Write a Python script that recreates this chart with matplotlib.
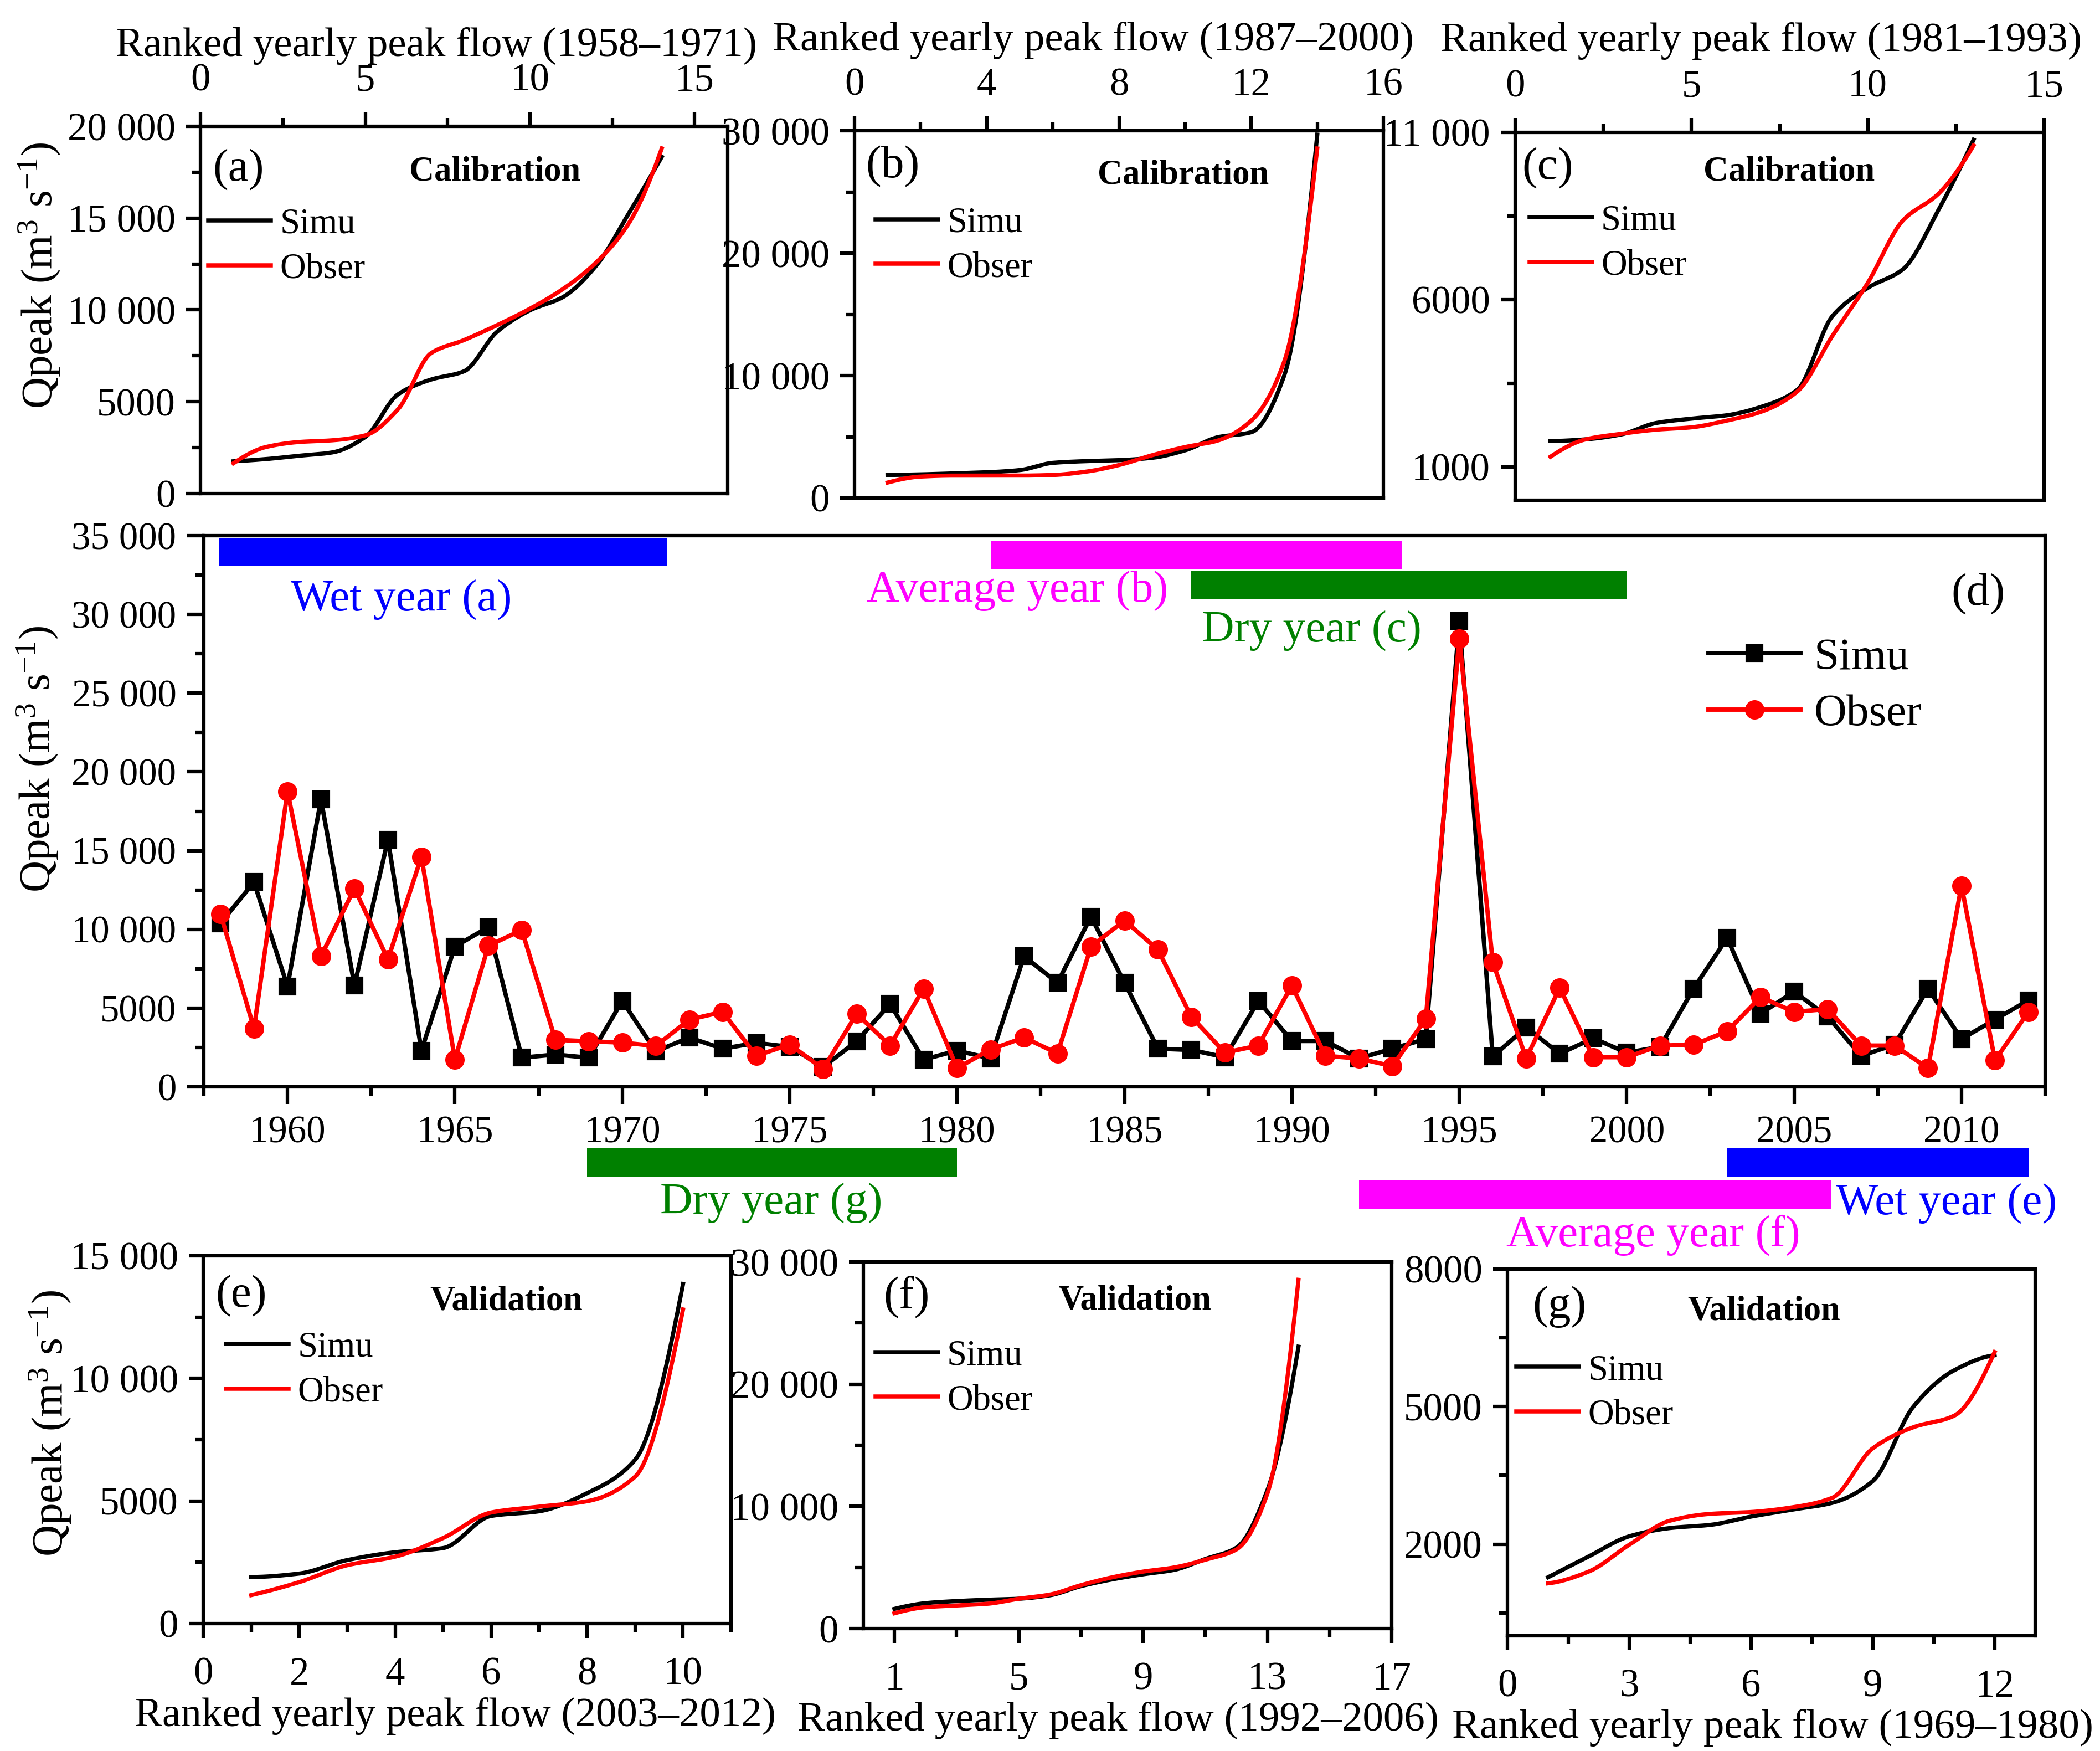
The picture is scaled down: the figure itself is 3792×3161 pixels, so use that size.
import numpy as np
import matplotlib
matplotlib.use("Agg")
import matplotlib.pyplot as plt
from matplotlib.ticker import MultipleLocator, FixedLocator, FuncFormatter

plt.rcParams['font.family'] = ['Liberation Serif', 'DejaVu Serif']
plt.rcParams['mathtext.fontset'] = 'custom'
plt.rcParams['mathtext.rm'] = 'Liberation Serif'
plt.rcParams['mathtext.it'] = 'Liberation Serif:italic'
plt.rcParams['axes.linewidth'] = 1.5

################################################################################
#                                     DATA                                     #
################################################################################

# yearly peak flow, panel (d)
years = list(range(1958, 2013))
simu = [10390, 13000, 6370, 18260, 6440, 15700, 2295, 8910, 10140, 1850,
        2050, 1850, 5450, 2250, 3130, 2420, 2790, 2540, 1260, 2890,
        5260, 1730, 2300, 1800, 8290, 6610, 10810, 6610, 2420, 2340,
        1880, 5450, 2910, 2910, 1800, 2420, 3040, 29570, 1925, 3780,
        2100, 3085, 2170, 2540, 6240, 9450, 4640, 6050, 4470, 1970,
        2670, 6240, 3040, 4270, 5500]
obser = [10980, 3700, 18760, 8290, 12590, 8095, 14610, 1730, 8960, 9950,
         2990, 2890, 2810, 2590, 4270, 4760, 1970, 2690, 1135, 4640,
         2620, 6240, 1185, 2370, 3130, 2120, 8910, 10560, 8710, 4440,
         2170, 2620, 6440, 1970, 1800, 1310, 4320, 28460, 7920, 1800,
         6290, 1880, 1880, 2620, 2670, 3530, 5700, 4760, 4940, 2620,
         2620, 1185, 12780, 1680, 4760]

# ranked yearly peak flow, panels (a)-(c) calibration, (e)-(g) validation
rank_a_simu = [1755, 1880, 2060, 2240, 3080, 5410, 6210, 6660, 8810, 9980,
               10700, 12390, 15260, 18340]
rank_a_obser = [1650, 2540, 2810, 2900, 3170, 4600, 7650, 8360, 9170, 10070,
                11140, 12570, 14720, 18800]
rank_b_simu = [1880, 1930, 2010, 2100, 2280, 2870, 3010, 3090, 3280, 3890,
               4970, 5370, 10000, 29680]
rank_b_obser = [1260, 1750, 1830, 1830, 1830, 1880, 2150, 2690, 3490, 4160,
                4700, 6310, 11150, 28550]
rank_c_simu = [1770, 1820, 1965, 2310, 2440, 2540, 2800, 3300, 5510, 6350,
               6910, 8670, 10780]
rank_c_obser = [1300, 1820, 1985, 2110, 2180, 2380, 2655, 3250, 4920, 6500,
                8370, 9160, 10610]
rank_e_simu = [1900, 2040, 2590, 2910, 3080, 4390, 4580, 5320, 6680, 13850]
rank_e_obser = [1160, 1690, 2380, 2730, 3490, 4530, 4770, 4990, 5990, 12810]
rank_f_simu = [1610, 2080, 2250, 2360, 2440, 2720, 3470, 4020, 4440, 4800,
               5690, 6610, 11320, 23060]
rank_f_obser = [1250, 1750, 1890, 2030, 2440, 2780, 3550, 4190, 4660, 5000,
                5630, 6470, 11050, 28530]
rank_g_simu = [1276, 1730, 2170, 2350, 2420, 2600, 2750, 2900, 3375, 5000,
               5790, 6120]
rank_g_obser = [1144, 1400, 1985, 2510, 2660, 2700, 2800, 3010, 4090, 4550,
                4800, 6190]

# wet / average / dry periods marked above and below panel (d)
top_labels = ['Wet year (a)', 'Average year (b)', 'Dry year (c)']
top_start = [1957.96, 1981.0, 1987.0]
top_end = [1971.34, 1993.3, 2000.0]
bot_labels = ['Dry year (g)', 'Average year (f)', 'Wet year (e)']
bot_start = [1968.95, 1992.0, 2003.0]
bot_end = [1980.0, 2006.1, 2012.0]

C_WET, C_AVG, C_DRY = '#0000ff', '#ff00ff', '#008000'

################################################################################
#                                    HELPERS                                   #
################################################################################

W, H = 3792, 3161


def rect(left, right, top, bottom):
    """pixel box -> figure fraction rect"""
    return [left / W, 1 - bottom / H, (right - left) / W, (bottom - top) / H]


def origin_fmt(v, pos):
    v = int(round(v))
    if abs(v) >= 10000:
        return '{:,}'.format(v).replace(',', ' ')
    return str(v)


def smooth(xk, yk, num=300):
    """monotone cubic (PCHIP) line through the points, like Origin's spline"""
    xk = np.asarray(xk, float)
    yk = np.asarray(yk, float)
    n = len(xk)
    h = np.diff(xk)
    delta = np.diff(yk) / h
    d = np.zeros(n)
    for k in range(1, n - 1):
        if delta[k - 1] * delta[k] > 0:
            w1 = 2 * h[k] + h[k - 1]
            w2 = h[k] + 2 * h[k - 1]
            d[k] = (w1 + w2) / (w1 / delta[k - 1] + w2 / delta[k])

    def end(h0, h1, d0, d1):
        s = ((2 * h0 + h1) * d0 - h0 * d1) / (h0 + h1)
        if np.sign(s) != np.sign(d0):
            s = 0.0
        elif np.sign(d0) != np.sign(d1) and abs(s) > abs(3 * d0):
            s = 3 * d0
        return s

    d[0] = end(h[0], h[1], delta[0], delta[1])
    d[-1] = end(h[-1], h[-2], delta[-1], delta[-2])
    xs = np.linspace(xk[0], xk[-1], num)
    i = np.clip(np.searchsorted(xk, xs) - 1, 0, n - 2)
    t = (xs - xk[i]) / h[i]
    ys = ((2 * t**3 - 3 * t**2 + 1) * yk[i] + (t**3 - 2 * t**2 + t) * h[i] * d[i]
          + (-2 * t**3 + 3 * t**2) * yk[i + 1] + (t**3 - t**2) * h[i] * d[i + 1])
    return xs, ys


def small_panel(box, s, o, cfg):
    ax = fig.add_axes(rect(*box))
    x = np.arange(1, len(s) + 1)
    ax.plot(*smooth(x, s), color='black', lw=1.8, label='Simu')
    ax.plot(*smooth(x, o), color='red', lw=1.8, label='Obser')
    ax.set_xlim(*cfg['xlim'])
    ax.set_ylim(*cfg['ylim'])
    ax.xaxis.set_major_locator(FixedLocator(cfg['xmaj']))
    ax.xaxis.set_minor_locator(FixedLocator(cfg['xmin']))
    ax.yaxis.set_major_locator(FixedLocator(cfg['ymaj']))
    ax.yaxis.set_minor_locator(FixedLocator(cfg['ymin']))
    ax.yaxis.set_major_formatter(FuncFormatter(origin_fmt))
    top = cfg['top']
    if top:
        ax.xaxis.tick_top()
        ax.xaxis.set_label_position('top')
    ax.tick_params(axis='x', which='both', direction='out', top=top,
                   bottom=not top, labeltop=top, labelbottom=not top,
                   labelsize=17, pad=5.5 if top else 8, width=1.5)
    ax.tick_params(axis='y', which='both', direction='out', left=True,
                   right=False, labelsize=17, pad=4.5, width=1.5)
    ax.tick_params(which='major', length=6.3)
    ax.tick_params(which='minor', length=3.6)
    ax.set_xlabel(cfg['xlabel'], fontsize=18)
    ax.xaxis.set_label_coords(cfg['xlab_x'], cfg['xlab_y'])
    if top:
        ax.xaxis.label.set_va('bottom')
    if cfg.get('ylab'):
        ax.set_ylabel(r'Qpeak (m$^{3}$ s$^{-1}$)', fontsize=19)
        ax.yaxis.set_label_coords(*cfg['ylab'])
    ax.text(cfg['tag'][0], cfg['tag'][1], cfg['tag'][2], transform=ax.transAxes,
            ha='left', va='center', fontsize=20)
    ax.text(cfg['title'][0], cfg['title'][1], cfg['title'][2],
            transform=ax.transAxes, ha='center', va='center', fontsize=15,
            fontweight='bold')
    ax.legend(loc='center left', bbox_to_anchor=cfg['leg'], frameon=False,
              fontsize=15.5, handlelength=1.75, handletextpad=0.25,
              labelspacing=0.33, borderpad=0, borderaxespad=0)
    return ax


################################################################################
#                                    FIGURE                                    #
################################################################################

fig = plt.figure(figsize=(W / 300, H / 300), dpi=300)

# panel (d): yearly series
ax = fig.add_axes(rect(368, 3693, 967, 1962))
ax.plot(years, simu, color='black', lw=1.9, marker='s', ms=6.5,
        label='Simu', zorder=3)
ax.plot(years, obser, color='red', lw=1.9, marker='o', ms=7.4,
        label='Obser', zorder=4)
ax.barh([33970, 33790, 31890], np.subtract(top_end, top_start), height=1800,
        left=top_start, color=[C_WET, C_AVG, C_DRY], zorder=2)
for lab, xx, yy, c in zip(top_labels, [1960.1, 1977.3, 1987.3],
                          [30230, 30800, 28260], [C_WET, C_AVG, C_DRY]):
    ax.text(xx, yy, lab, color=c, fontsize=19.5, ha='left', va='baseline')
ax.text(2011.3, 31270, '(d)', fontsize=20, ha='right', va='center')
ax.set_xlim(1957.5, 2012.5)
ax.set_ylim(0, 35000)
ax.xaxis.set_major_locator(MultipleLocator(5))
ax.xaxis.set_minor_locator(MultipleLocator(2.5))
ax.yaxis.set_major_locator(MultipleLocator(5000))
ax.yaxis.set_minor_locator(MultipleLocator(2500))
ax.yaxis.set_major_formatter(FuncFormatter(origin_fmt))
ax.tick_params(which='both', direction='out', width=1.5, labelsize=16.5)
ax.tick_params(axis='x', pad=5)
ax.tick_params(axis='y', pad=4.5)
ax.tick_params(which='major', length=7.4)
ax.tick_params(which='minor', length=3.8)
ax.set_ylabel(r'Qpeak (m$^{3}$ s$^{-1}$)', fontsize=19)
ax.yaxis.set_label_coords(-0.078, 0.595)
ax.yaxis.label.set_va('bottom')
ax.legend(loc='center left', bbox_to_anchor=(0.817, 0.727), frameon=False,
          fontsize=19.5, handlelength=2.05, handletextpad=0.3,
          labelspacing=0.34, borderpad=0, borderaxespad=0, numpoints=1)

# band below panel (d) with the validation periods
band = fig.add_axes(rect(368, 3693, 2060, 2260))
band.set_xlim(1957.5, 2012.5)
band.set_ylim(0, 1)
band.axis('off')
band.barh([0.805, 0.515, 0.805], np.subtract(bot_end, bot_start), height=0.26,
          left=bot_start, color=[C_DRY, C_AVG, C_WET])
for lab, xx, yy, ha, c in zip(bot_labels, [1974.45, 2000.8, 2006.25],
                              [0.34, 0.05, 0.335], ['center', 'center', 'left'],
                              [C_DRY, C_AVG, C_WET]):
    band.text(xx, yy, lab, color=c, fontsize=19.5, ha=ha, va='baseline')

# ranked panels
small_panel((362, 1314, 228, 891), rank_a_simu, rank_a_obser, dict(
    xlim=(0, 16), xmaj=[0, 5, 10, 15], xmin=[2.5, 7.5, 12.5],
    ylim=(0, 20000), ymaj=np.arange(0, 20001, 5000), ymin=np.arange(2500, 20000, 5000),
    top=True, xlabel='Ranked yearly peak flow (1958\u20131971)',
    xlab_x=0.447, xlab_y=1.167,
    ylab=(-0.262, 0.593), tag=(0.024, 0.881, '(a)'),
    title=(0.558, 0.875, 'Calibration'), leg=(0.015, 0.672)))

small_panel((1543, 2498, 236, 899), rank_b_simu, rank_b_obser, dict(
    xlim=(0, 16), xmaj=[0, 4, 8, 12, 16], xmin=[2, 6, 10, 14],
    ylim=(0, 30000), ymaj=np.arange(0, 30001, 10000), ymin=np.arange(5000, 30000, 10000),
    top=True, xlabel='Ranked yearly peak flow (1987\u20132000)',
    xlab_x=0.451, xlab_y=1.194,
    tag=(0.021, 0.902, '(b)'), title=(0.622, 0.879, 'Calibration'),
    leg=(0.040, 0.688)))

small_panel((2736, 3691, 239, 903), rank_c_simu, rank_c_obser, dict(
    xlim=(0, 15), xmaj=[0, 5, 10, 15], xmin=[2.5, 7.5, 12.5],
    ylim=(0, 11000), ymaj=[1000, 6000, 11000], ymin=[3500, 8500],
    top=True, xlabel='Ranked yearly peak flow (1981\u20131993)',
    xlab_x=0.465, xlab_y=1.197,
    tag=(0.013, 0.902, '(c)'), title=(0.518, 0.893, 'Calibration'),
    leg=(0.027, 0.698)))

small_panel((367, 1320, 2267, 2931), rank_e_simu, rank_e_obser, dict(
    xlim=(0, 11), xmaj=[0, 2, 4, 6, 8, 10], xmin=[1, 3, 5, 7, 9, 11],
    ylim=(0, 15000), ymaj=np.arange(0, 15001, 5000), ymin=np.arange(2500, 15000, 5000),
    top=False, xlabel='Ranked yearly peak flow (2003\u20132012)',
    xlab_x=0.477, xlab_y=-0.2,
    ylab=(-0.247, 0.545), tag=(0.023, 0.89, '(e)'),
    title=(0.574, 0.876, 'Validation'), leg=(0.043, 0.689)))

small_panel((1559, 2513, 2278, 2940), rank_f_simu, rank_f_obser, dict(
    xlim=(0, 17), xmaj=[1, 5, 9, 13, 17], xmin=[3, 7, 11, 15],
    ylim=(0, 30000), ymaj=np.arange(0, 30001, 10000), ymin=np.arange(5000, 30000, 10000),
    top=False, xlabel='Ranked yearly peak flow (1992\u20132006)',
    xlab_x=0.482, xlab_y=-0.2,
    tag=(0.038, 0.905, '(f)'), title=(0.514, 0.893, 'Validation'),
    leg=(0.023, 0.683)))

small_panel((2722, 3675, 2291, 2953), rank_g_simu, rank_g_obser, dict(
    xlim=(0, 13), xmaj=[0, 3, 6, 9, 12], xmin=[1.5, 4.5, 7.5, 10.5],
    ylim=(0, 8000), ymaj=[2000, 5000, 8000], ymin=[500, 3500, 6500],
    top=False, xlabel='Ranked yearly peak flow (1969\u20131980)',
    xlab_x=0.503, xlab_y=-0.2,
    tag=(0.048, 0.897, '(g)'), title=(0.486, 0.884, 'Validation'),
    leg=(0.017, 0.662)))

fig.savefig('out.png', dpi=300)
